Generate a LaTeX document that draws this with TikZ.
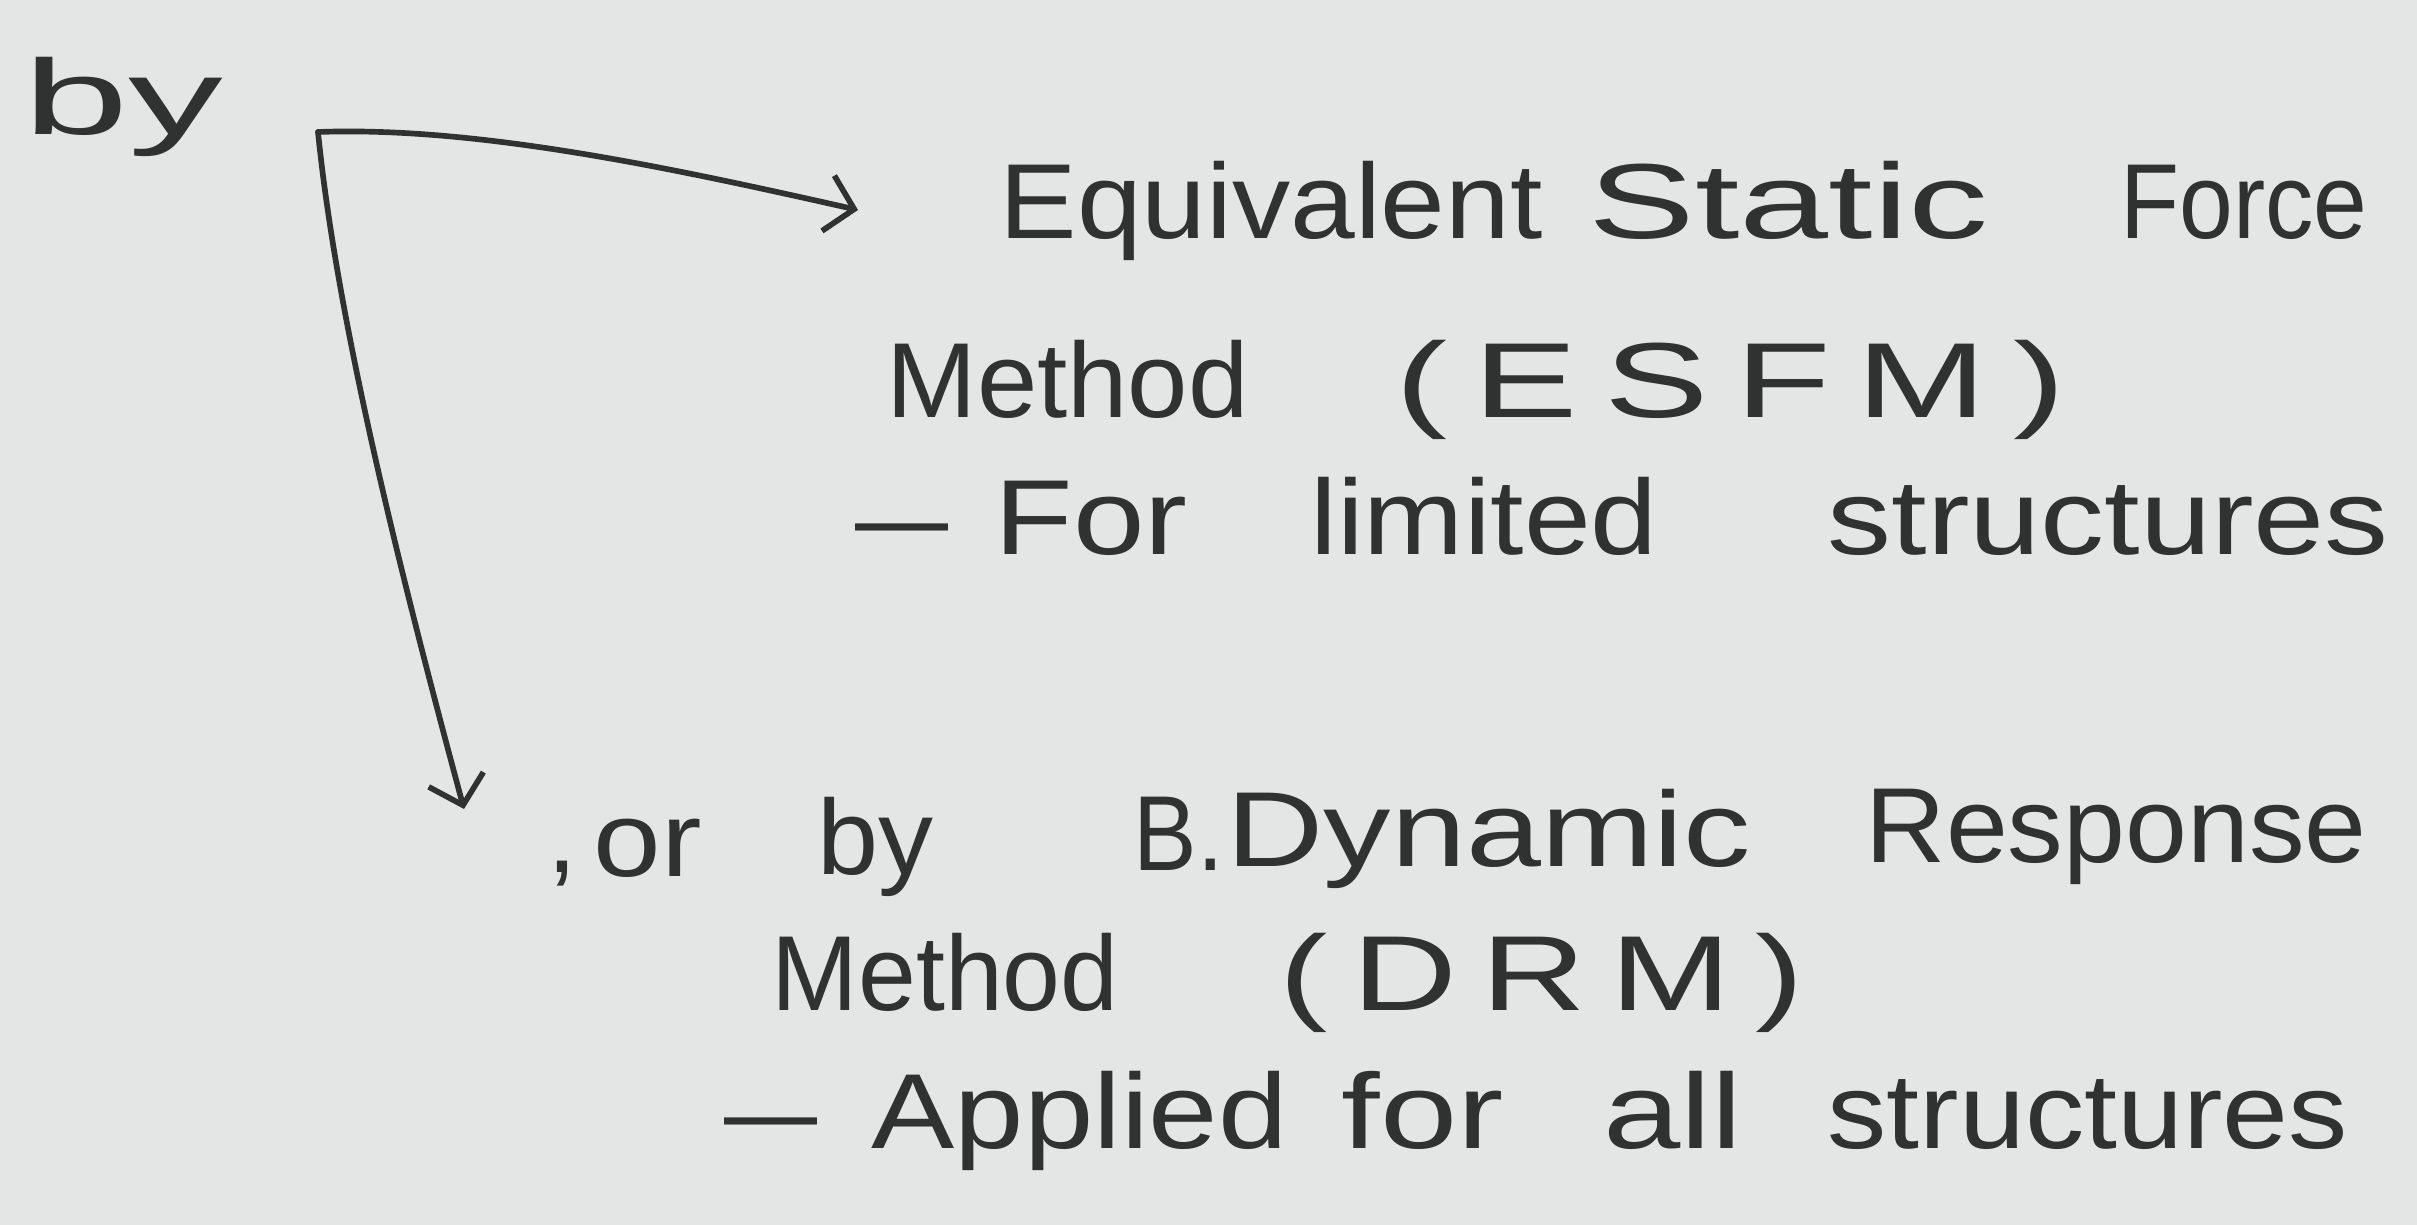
\documentclass[tikz,border=0pt]{standalone}
\usepackage{fontspec}
\usepackage{graphicx}
\setmainfont{Liberation Sans}
\usetikzlibrary{arrows.meta}
\definecolor{paper}{HTML}{E3E6E4}
\definecolor{ink}{HTML}{2F3231}
\newsavebox\wbox
\newcommand\fitw[2]{\sbox\wbox{#2}\pgfmathsetmacro\sxf{0.3*#1/\the\wd\wbox}\scalebox{\sxf}[1]{\usebox\wbox}}
\tikzset{
  word/.style={anchor=base west, inner sep=0pt, text=ink, font=\fontsize{32}{38}\selectfont},
  pen/.style={draw=ink, line width=1.7pt, line cap=round, line join=round},
  penarrow/.style={pen, -{Straight Barb[length=8pt, width=17pt, line width=1.7pt]}}
}
\begin{document}
\begin{tikzpicture}[x=0.3pt, y=-0.3pt]
\fill[paper] (0,0) rectangle (2417,1225);
\useasboundingbox (0,0) rectangle (2417,1225);

% left word
\node[word] (by0) at (23,135) {\fitw{200}{by}};

% arrows
\coordinate (corner) at (318,132);
\coordinate (tipA) at (858,210);
\coordinate (tipB) at (464,809);
\draw[penarrow] (corner) .. controls (480,126) and (680,170) .. (tipA);
\draw[penarrow] (corner) .. controls (338,330) and (405,590) .. (tipB);

% line 1
\node[word] (e1) at (999,239) {\fitw{543}{Equivalent}};
\node[word] (e2) at (1588,239) {\fitw{400}{Static}};
\node[word] (e3) at (2120,239) {\fitw{247}{Force}};
% line 2
\node[word] (m1) at (886,418) {\fitw{362}{Method}};
\node[word] (m2) at (1395,418) {\fitw{670}{(\,E\,S\,F\,M\,)}};
% line 3
\node[word] (f0) at (855,554) {\fitw{93}{—}};
\node[word] (f1) at (994,554) {\fitw{193}{For}};
\node[word] (f2) at (1310,554) {\fitw{347}{limited}};
\node[word] (f3) at (1827,554) {\fitw{561}{structures}};
% line 4
\node[word] (d0) at (547,872) {,};
\node[word] (d1) at (593,876) {\fitw{108}{or}};
\node[word] (d2) at (817,874) {\fitw{116}{by}};
\node[word] (d3) at (1133,870) {\fitw{90}{B.}};
\node[word] (d4) at (1226,866) {\fitw{524}{Dynamic}};
\node[word] (d5) at (1865,862) {\fitw{501}{Response}};
% line 5
\node[word] (n1) at (771,1010) {\fitw{347}{Method}};
\node[word] (n2) at (1279,1010) {\fitw{524}{(\,D\,R\,M\,)}};
% line 6
\node[word] (a0) at (724,1148) {\fitw{93}{—}};
\node[word] (a1) at (871,1148) {\fitw{416}{Applied}};
\node[word] (a2) at (1341,1148) {\fitw{162}{for}};
\node[word] (a3) at (1603,1148) {\fitw{139}{all}};
\node[word] (a4) at (1827,1148) {\fitw{520}{structures}};
\end{tikzpicture}
\end{document}
